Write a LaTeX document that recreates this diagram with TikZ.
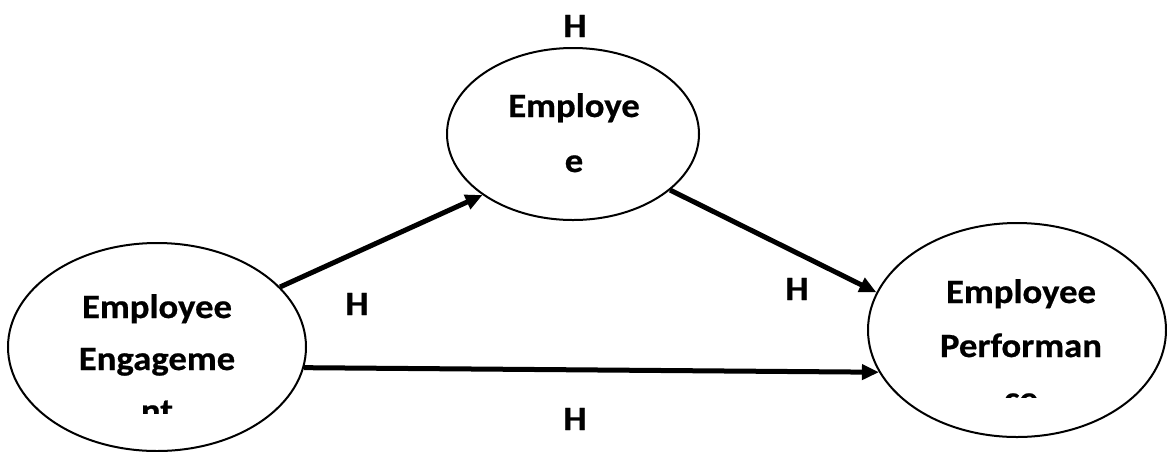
\documentclass[tikz,border=0pt]{standalone}
\usepackage{fontspec}
\newfontfamily\lblfont{Carlito}[FakeStretch=1.08, BoldFeatures={FakeBold=0.6}]
\usetikzlibrary{shapes.geometric,arrows.meta}
\tikzset{
  construct/.style={draw, ellipse, line width=2pt, inner sep=0pt},
  txt/.style={font=\lblfont\bfseries\fontsize{34}{40}\selectfont, anchor=base, inner sep=0pt},
  path/.style={line width=5pt, -{Triangle[length=17pt,width=15pt]}},
}
\begin{document}
\begin{tikzpicture}[x=1pt, y=-1pt]
\useasboundingbox (0,0) rectangle (1167,451);

% constructs
\node[construct, minimum width=298pt, minimum height=208pt] (ee) at (157,347) {};
\node[construct, minimum width=252pt, minimum height=172pt] (es) at (573,134) {};
\node[construct, minimum width=298pt, minimum height=214pt] (ep) at (1017,330) {};

% labels inside the constructs (text boxes cut off at the bottom)
\begin{scope}
  \clip (0,0) rectangle (320,413);
  \node[txt] (ee1) at (157,318) {Employee};
  \node[txt] (ee2) at (157,370) {Engageme};
  \node[txt] (ee3) at (157,422) {nt};
\end{scope}
\node[txt] (es1) at (574,117) {Employe};
\node[txt] (es2) at (574,172) {e};
\begin{scope}
  \clip (860,0) rectangle (1167,397);
  \node[txt] (ep1) at (1021,303) {Employee};
  \node[txt] (ep2) at (1021,357) {Performan};
  \node[txt] (ep3) at (1021,410) {ce};
\end{scope}

% hypothesised paths
\draw[path] (ee.26) -- (es.214);
\draw[path] (es.330) -- (ep.165);
\draw[path] (ee.352) -- (ep.197);

% hypothesis labels
\node[txt] (h0) at (575,37) {H};
\node[txt] (h1) at (357,315) {H};
\node[txt] (h2) at (797,300) {H};
\node[txt] (h3) at (575,430) {H};
\end{tikzpicture}
\end{document}
